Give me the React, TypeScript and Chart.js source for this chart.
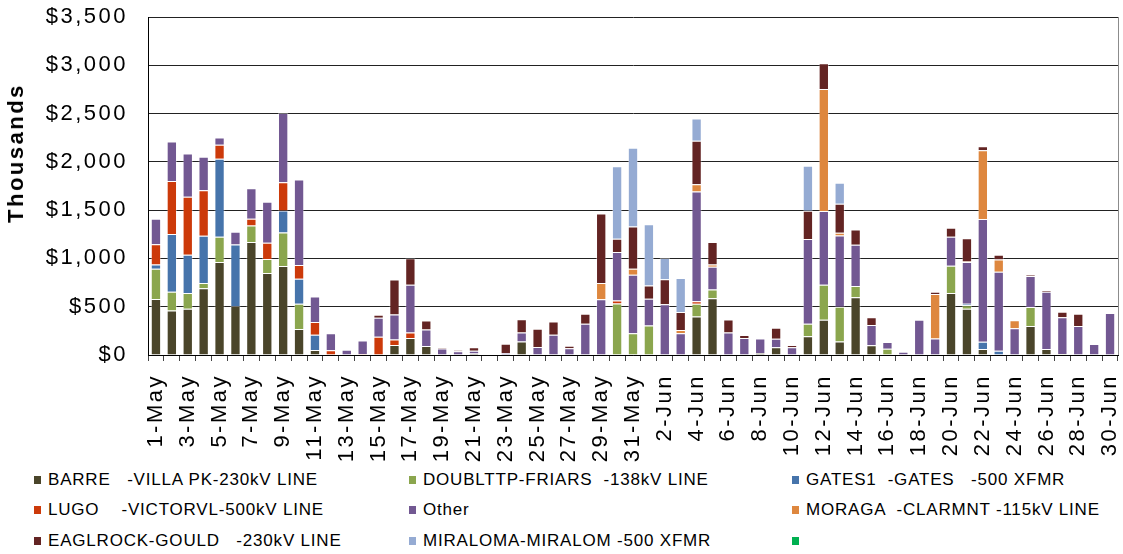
import React, { useEffect, useRef } from 'react';
import { Chart, registerables } from 'chart.js';

Chart.register(...registerables);

const categories = [
  '1-May', '2-May', '3-May', '4-May', '5-May', '6-May', '7-May', '8-May', '9-May', '10-May',
  '11-May', '12-May', '13-May', '14-May', '15-May', '16-May', '17-May', '18-May', '19-May', '20-May',
  '21-May', '22-May', '23-May', '24-May', '25-May', '26-May', '27-May', '28-May', '29-May', '30-May', '31-May',
  '1-Jun', '2-Jun', '3-Jun', '4-Jun', '5-Jun', '6-Jun', '7-Jun', '8-Jun', '9-Jun', '10-Jun',
  '11-Jun', '12-Jun', '13-Jun', '14-Jun', '15-Jun', '16-Jun', '17-Jun', '18-Jun', '19-Jun', '20-Jun',
  '21-Jun', '22-Jun', '23-Jun', '24-Jun', '25-Jun', '26-Jun', '27-Jun', '28-Jun', '29-Jun', '30-Jun',
];

// values in thousands of dollars
const barre = [
  579, 462, 479, 690, 962, 507, 1169, 848, 921, 269, 52, 0, 0, 0, 0, 103, 175, 93, 0, 0, 15, 0, 0, 141, 0, 0, 0, 0, 0, 0, 0,
  0, 0, 0, 399, 588, 0, 0, 21, 79, 0, 193, 365, 141, 597, 100, 0, 0, 0, 0, 641, 479, 62, 0, 0, 300, 62, 0, 0, 0, 0,
];
const doubltt = [
  314, 193, 162, 55, 262, 0, 172, 145, 348, 262, 0, 0, 0, 0, 0, 0, 0, 0, 0, 0, 0, 0, 0, 0, 0, 0, 0, 0, 0, 533, 224,
  306, 0, 0, 131, 90, 0, 0, 0, 0, 0, 131, 363, 359, 117, 0, 66, 0, 0, 0, 283, 35, 0, 0, 0, 197, 0, 10, 0, 0, 0,
];
const gates = [
  45, 597, 397, 489, 807, 638, 0, 0, 227, 259, 158, 0, 0, 0, 0, 0, 0, 0, 0, 0, 0, 0, 0, 0, 0, 0, 0, 0, 0, 0, 0,
  0, 0, 0, 0, 0, 0, 0, 0, 0, 0, 0, 0, 0, 0, 0, 0, 0, 0, 0, 0, 17, 76, 45, 0, 0, 0, 0, 0, 0, 0,
];
const lugo = [
  210, 551, 600, 473, 145, 0, 69, 169, 294, 141, 131, 48, 0, 10, 189, 58, 59, 0, 0, 0, 0, 0, 0, 0, 0, 0, 0, 0, 0, 31, 0,
  0, 0, 0, 27, 0, 0, 0, 0, 0, 0, 0, 0, 0, 0, 0, 0, 0, 0, 0, 0, 0, 0, 0, 0, 0, 0, 0, 0, 0, 0,
];
const other = [
  262, 407, 448, 345, 76, 131, 317, 424, 717, 886, 266, 176, 55, 141, 196, 258, 494, 172, 68, 40, 30, 4, 22, 91, 83, 210, 69, 323, 578, 502, 608,
  276, 526, 224, 1135, 237, 234, 176, 151, 90, 79, 876, 762, 738, 427, 210, 68, 33, 364, 172, 300, 431, 1269, 817, 276, 320, 593, 380, 300, 114, 434,
];
const moraga = [
  0, 0, 0, 0, 0, 0, 0, 0, 0, 0, 0, 0, 0, 0, 0, 0, 0, 0, 0, 0, 0, 0, 0, 0, 0, 0, 0, 0, 168, 0, 62,
  0, 0, 34, 76, 21, 0, 0, 0, 0, 0, 0, 1265, 27, 0, 0, 0, 0, 0, 459, 0, 7, 714, 128, 83, 0, 0, 0, 0, 0, 0,
];
const eaglrock = [
  0, 0, 0, 0, 0, 0, 0, 0, 0, 0, 0, 0, 0, 0, 31, 364, 275, 92, 9, 10, 35, 0, 95, 138, 189, 137, 27, 104, 719, 138, 437,
  137, 258, 186, 451, 234, 133, 31, 0, 114, 24, 293, 265, 300, 159, 80, 0, 0, 0, 24, 93, 241, 41, 48, 0, 14, 14, 58, 128, 0, 0,
];
const miraloma = [
  0, 0, 0, 0, 0, 0, 0, 0, 0, 0, 0, 0, 0, 0, 0, 0, 0, 0, 0, 0, 0, 0, 0, 0, 0, 0, 0, 0, 0, 750, 815,
  636, 220, 354, 230, 0, 0, 0, 0, 0, 0, 466, 0, 218, 0, 0, 0, 0, 0, 0, 0, 0, 0, 0, 0, 0, 0, 0, 0, 0, 0,
];
const unnamed = [
  0, 0, 0, 0, 0, 0, 0, 0, 0, 0, 0, 0, 0, 0, 0, 0, 0, 0, 0, 0, 0, 0, 0, 0, 0, 0, 0, 0, 0, 0, 0,
  0, 0, 0, 0, 0, 0, 0, 0, 0, 0, 0, 0, 0, 0, 0, 0, 0, 0, 0, 0, 0, 0, 0, 0, 0, 0, 0, 0, 0, 0,
];

const seriesNames = [
  'BARRE   -VILLA PK-230kV LINE',
  'DOUBLTTP-FRIARS  -138kV LINE',
  'GATES1  -GATES   -500 XFMR',
  'LUGO    -VICTORVL-500kV LINE',
  'Other',
  'MORAGA  -CLARMNT -115kV LINE',
  'EAGLROCK-GOULD   -230kV LINE',
  'MIRALOMA-MIRALOM -500 XFMR',
  '',
];
const seriesValues = [barre, doubltt, gates, lugo, other, moraga, eaglrock, miraloma, unnamed];
const seriesColors = ['#4A452A', '#8BA64E', '#4674AB', '#CC3A0A', '#725892', '#DE873E', '#632423', '#95ABD3', '#00B050'];

const yTicks = [0, 500, 1000, 1500, 2000, 2500, 3000, 3500];

const FONT = '"Liberation Sans", Arial, sans-serif';

export default function App() {
  const ref = useRef<HTMLCanvasElement | null>(null);

  useEffect(() => {
    if (!ref.current) return;
    const spacingPlugin = {
      id: 'spacing',
      beforeDraw(c: any) {
        c.ctx.letterSpacing = '2.5px';
      },
      afterDraw(c: any) {
        const { ctx, chartArea } = c;
        ctx.save();
        ctx.strokeStyle = '#8c8c8c';
        ctx.lineWidth = 1;
        ctx.beginPath();
        ctx.moveTo(Math.round(chartArea.right) + 0.5, chartArea.top);
        ctx.lineTo(Math.round(chartArea.right) + 0.5, chartArea.bottom);
        ctx.stroke();
        ctx.restore();
      },
    };
    const chart = new Chart(ref.current, {
      type: 'bar',
      data: {
        labels: categories,
        datasets: seriesValues.map((vals, i) => ({
          label: seriesNames[i],
          data: vals,
          backgroundColor: seriesColors[i],
          borderColor: 'rgba(255,255,255,0.35)',
          borderWidth: 1,
          barPercentage: 0.65,
          categoryPercentage: 1,
        })),
      },
      options: {
        responsive: false,
        animation: false,
        devicePixelRatio: 1,
        layout: { padding: { top: 17, right: 5, left: 0, bottom: 0 } },
        plugins: {
          legend: { display: false },
          tooltip: { enabled: false },
        },
        scales: {
          x: {
            stacked: true,
            afterFit: (s: any) => {
              s.height = 110;
              s.paddingLeft = 0;
              s.paddingRight = 0;
            },
            grid: {
              drawOnChartArea: false,
              drawTicks: true,
              tickLength: 6,
              color: '#444',
            },
            border: { display: true, color: '#000', width: 1 },
            ticks: {
              autoSkip: false,
              maxRotation: 90,
              minRotation: 90,
              padding: 13,
              color: '#000',
              font: { family: FONT, size: 22 },
              callback: (_v: any, i: number) => (i % 2 === 0 ? categories[i] : ''),
            },
          },
          y: {
            stacked: true,
            min: 0,
            max: 3500,
            afterFit: (s: any) => {
              s.width = 148;
              s.paddingTop = 0;
              s.paddingBottom = 0;
            },
            afterBuildTicks: (s: any) => { s.ticks = yTicks.map((v) => ({ value: v })); },
            grid: { color: '#222', lineWidth: 1, drawTicks: false },
            border: { display: true, color: '#000', width: 1 },
            ticks: {
              padding: 20,
              color: '#000',
              font: { family: FONT, size: 22 },
              callback: (v: any) => '$' + Number(v).toLocaleString('en-US'),
            },
          },
        },
      },
      plugins: [spacingPlugin],
    } as any);
    return () => chart.destroy();
  }, []);

  const legendCols = [34, 409, 792];
  const legendRows = [480, 510, 541];

  return (
    <div style={{ position: 'absolute', left: 0, top: 0, width: 1123, height: 554, background: '#fff', fontFamily: FONT, overflow: 'hidden' }}>
      <canvas ref={ref} width={1123} height={465} style={{ position: 'absolute', left: 0, top: 0, width: 1123, height: 465 }} />
      <div
        style={{
          position: 'absolute', left: 16, top: 153, width: 0, height: 0,
        }}
      >
        <div
          style={{
            position: 'absolute', left: 0, top: 0,
            transform: 'translate(-50%, -50%) rotate(-90deg)',
            fontWeight: 'bold', fontSize: 22, letterSpacing: '2.5px', whiteSpace: 'nowrap', color: '#000', lineHeight: '24px',
          }}
        >
          Thousands
        </div>
      </div>
      {seriesNames.map((name, i) => {
        const col = i % 3;
        const row = Math.floor(i / 3);
        return (
          <div
            key={i}
            style={{
              position: 'absolute', left: legendCols[col], top: legendRows[row] - 11, height: 22,
              display: 'flex', alignItems: 'center', whiteSpace: 'pre',
              fontSize: 17, letterSpacing: '0.8px', color: '#000',
            }}
          >
            <span style={{ display: 'inline-block', width: 7, height: 8, background: seriesColors[i], marginRight: 7 }} />
            <span>{name}</span>
          </div>
        );
      })}
    </div>
  );
}
